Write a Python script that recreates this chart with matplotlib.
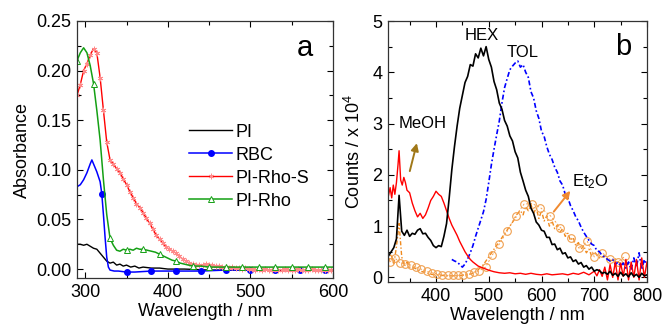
import numpy as np
import matplotlib
matplotlib.use("Agg")
import matplotlib.pyplot as plt
from matplotlib.ticker import MultipleLocator

plt.rcParams['font.family'] = ['Liberation Sans', 'DejaVu Sans']
plt.rcParams['mathtext.fontset'] = 'custom'
plt.rcParams['mathtext.rm'] = 'Liberation Sans'
plt.rcParams['mathtext.it'] = 'Liberation Sans:italic'

# ---------------- Panel a data ----------------
wl_a = np.arange(290, 600, 4)  # 290 .. 598
pi_rho_s = [0.175, 0.186, 0.200, 0.207, 0.216, 0.222, 0.218, 0.193, 0.160, 0.128,
            0.110, 0.106, 0.101, 0.097, 0.091, 0.085, 0.078, 0.072, 0.066, 0.062,
            0.057, 0.051, 0.046, 0.040, 0.034, 0.030, 0.026, 0.022, 0.020, 0.018,
            0.016, 0.013, 0.010, 0.008, 0.006, 0.005, 0.004, 0.004, 0.004, 0.005,
            0.004, 0.004, 0.003, 0.003, 0.002, 0.002, 0.001, 0.002, 0.001, 0.001,
            0.000, 0.001, 0.000, 0.000, -0.001, 0.000, -0.001, 0.000, -0.001, -0.001,
            0.000, -0.001, -0.001, 0.000, -0.001, -0.001, -0.001, 0.000, -0.001, -0.001,
            -0.001, 0.000, -0.001, -0.001, -0.001, -0.001, -0.001, -0.001]

wl_pi = [290, 294, 298, 302, 306, 310, 314, 318, 322, 326, 330, 334, 338, 342, 346,
         350, 355, 360, 365, 370, 380, 390, 400, 420, 450, 500, 550, 600]
pi = [0.025, 0.025, 0.024, 0.025, 0.023, 0.021, 0.020, 0.016, 0.012, 0.008, 0.006,
      0.007, 0.004, 0.005, 0.003, 0.004, 0.002, 0.003, 0.001, 0.002, 0.001, 0.001,
      0.000, 0.000, -0.001, -0.001, -0.001, -0.001]

wl_rbc = [290, 294, 298, 302, 306, 308, 310, 314, 318, 320, 322, 324, 326, 328, 330,
          335, 340, 350, 360, 380, 410, 440, 470, 500, 530, 560, 590, 600]
rbc = [0.083, 0.085, 0.090, 0.097, 0.106, 0.110, 0.106, 0.098, 0.088, 0.076, 0.055,
       0.032, 0.012, 0.002, -0.001, -0.002, -0.002, -0.003, -0.003, -0.002, -0.002,
       -0.002, -0.001, -0.001, -0.001, -0.001, -0.001, -0.001]

wl_rho = [290, 294, 298, 302, 306, 310, 314, 318, 322, 326, 330, 334, 338, 342, 346,
          350, 354, 358, 362, 366, 370, 375, 380, 385, 390, 395, 400, 405, 410, 415,
          420, 425, 430, 440, 450, 470, 490, 510, 530, 550, 570, 590, 600]
pi_rho = [0.210, 0.218, 0.223, 0.218, 0.205, 0.187, 0.160, 0.130, 0.090, 0.055, 0.031,
          0.024, 0.019, 0.018, 0.020, 0.019, 0.020, 0.019, 0.021, 0.020, 0.020, 0.019,
          0.018, 0.017, 0.015, 0.013, 0.011, 0.009, 0.008, 0.006, 0.005, 0.004, 0.003,
          0.003, 0.002, 0.002, 0.002, 0.002, 0.002, 0.002, 0.002, 0.002, 0.002]

# ---------------- Panel b data ----------------
wl_hex = np.arange(310, 801, 5)
hex_ = [0.42, 0.50, 0.58, 0.75, 1.60, 0.90, 0.82, 0.92, 0.80, 0.86,
        0.84, 0.92, 0.95, 0.85, 0.86, 0.78, 0.72, 0.62, 0.58, 0.62,
        0.60, 0.80, 1.05, 1.55, 2.10, 2.55, 2.95, 3.30, 3.55, 3.80,
        3.92, 4.15, 4.12, 4.36, 4.28, 4.47, 4.32, 4.50, 4.25, 4.10,
        3.82, 3.66, 3.40, 3.28, 3.06, 2.95, 2.76, 2.66, 2.45, 2.33,
        2.05, 1.88, 1.70, 1.58, 1.35, 1.25, 1.08, 1.02, 0.92, 0.90,
        0.78, 0.78, 0.64, 0.65, 0.54, 0.57, 0.46, 0.48, 0.38, 0.40,
        0.31, 0.34, 0.26, 0.29, 0.20, 0.23, 0.16, 0.20, 0.12, 0.15,
        0.13, 0.08, 0.10, 0.06, 0.12, 0.04, 0.08, 0.02, 0.10, 0.03,
        0.07, 0.01, 0.09, 0.02, 0.06, 0.00, 0.08, 0.03, 0.05]

wl_tol = np.arange(430, 801, 5)
tol = [0.35, 0.32, 0.30, 0.25, 0.20, 0.26, 0.36, 0.48, 0.62, 0.80,
       0.96, 1.12, 1.28, 1.52, 1.85, 2.20, 2.50, 2.78, 3.05, 3.40,
       3.70, 3.88, 4.05, 4.12, 4.18, 4.22, 4.10, 4.15, 4.00, 3.90,
       3.62, 3.50, 3.25, 3.10, 2.85, 2.75, 2.55, 2.40, 2.30, 2.15,
       2.05, 1.88, 1.80, 1.62, 1.55, 1.40, 1.30, 1.18, 1.10, 0.98,
       0.88, 0.80, 0.72, 0.65, 0.62, 0.52, 0.50, 0.42, 0.40, 0.35,
       0.32, 0.35, 0.25, 0.30, 0.22, 0.28, 0.18, 0.30, 0.15, 0.38,
       0.20, 0.48, 0.15, 0.35, 0.22]

wl_meoh = [310, 313, 316, 319, 322, 325, 328, 330, 333, 336, 339, 342, 345, 350, 355,
           360, 365, 370, 375, 380, 385, 390, 395, 400, 405, 410, 415, 420, 425, 430,
           435, 440, 445, 450, 455, 460, 465, 470, 480, 490, 500, 510, 520, 530, 540,
           550, 560, 570, 580, 590, 600, 610, 620, 630, 640, 650, 660, 670, 680, 690,
           700, 705, 710, 715, 720, 725, 730, 735, 740, 745, 750, 755, 760, 765, 770,
           775, 780, 785, 790, 795, 800]
meoh = [1.60, 1.75, 1.55, 1.80, 1.62, 1.85, 2.20, 2.47, 1.90, 1.80, 1.95, 1.85, 1.70,
        1.65, 1.45, 1.30, 1.18, 1.25, 1.15, 1.22, 1.35, 1.50, 1.58, 1.68, 1.62, 1.58,
        1.45, 1.30, 1.15, 1.02, 0.92, 0.82, 0.70, 0.60, 0.50, 0.42, 0.35, 0.30, 0.22,
        0.18, 0.14, 0.11, 0.09, 0.08, 0.09, 0.07, 0.08, 0.06, 0.08, 0.06, 0.05, 0.07,
        0.05, 0.06, 0.07, 0.05, 0.08, 0.06, 0.10, 0.05, 0.12, 0.03, 0.15, 0.02, 0.20,
        -0.05, 0.25, 0.00, 0.30, -0.05, 0.28, 0.02, 0.35, -0.05, 0.30, 0.00, 0.35,
        -0.05, 0.38, 0.00, 0.30]

wl_et2o = [310, 315, 320, 325, 330, 335, 340, 345, 350, 360, 370, 380, 390, 400, 420,
           440, 460, 470, 480, 490, 500, 510, 520, 530, 540, 550, 555, 560, 565, 570,
           575, 580, 585, 590, 595, 600, 605, 610, 615, 620, 625, 630, 635, 640, 645,
           650, 655, 660, 665, 670, 675, 680, 685, 690, 695, 700, 710, 720, 730, 740,
           750, 760, 770]
et2o = [0.30, 0.45, 0.25, 0.60, 1.05, 0.40, 0.22, 0.30, 0.20, 0.18, 0.12, 0.10, 0.06,
        0.05, 0.03, 0.03, 0.05, 0.08, 0.15, 0.25, 0.40, 0.55, 0.70, 0.85, 1.00, 1.15,
        1.25, 1.30, 1.22, 1.38, 1.30, 1.42, 1.25, 1.35, 1.15, 1.30, 1.10, 1.20, 1.00,
        1.10, 0.95, 1.02, 0.88, 0.95, 0.80, 0.86, 0.72, 0.78, 0.62, 0.68, 0.55, 0.62,
        0.48, 0.55, 0.42, 0.50, 0.38, 0.42, 0.32, 0.36, 0.26, 0.30, 0.22]

wl_et2o_c = [312, 322, 332, 342, 352, 362, 372, 382, 392, 402, 412, 422, 432, 442, 452,
             462, 472, 482, 494, 507, 520, 535, 551, 567, 582, 598, 617, 636, 655, 671,
             687, 700, 715, 730, 745, 758]
et2o_c = [0.30, 0.38, 0.28, 0.27, 0.24, 0.20, 0.16, 0.12, 0.09, 0.07, 0.05, 0.04, 0.04,
          0.04, 0.05, 0.07, 0.10, 0.13, 0.20, 0.44, 0.65, 0.90, 1.20, 1.43, 1.44, 1.36,
          1.20, 0.97, 0.77, 0.57, 0.70, 0.40, 0.48, 0.35, 0.30, 0.41]

# ---------------- Figure ----------------
fig = plt.figure(figsize=(6.62, 3.24), dpi=100)
ax1 = fig.add_axes([77/662, 46/324, 256/662, 257/324])
ax2 = fig.add_axes([388/662, 42/324, 259/662, 261/324])

FS = 13

ax1.plot(wl_pi, pi, color='black', lw=1.0, label='PI')
ax1.plot(wl_rbc, rbc, color='#0000ff', lw=1.1, marker='o', ms=4,
         markevery=[i for i, w in enumerate(wl_rbc) if w >= 320 and (w - 320) % 30 == 0],
         label='RBC')
ax1.plot(wl_a, pi_rho_s, color='#ff0000', lw=1.0, marker=(6, 2, 0), ms=4,
         mec='#ff8a8a', mfc='#ff8a8a', mew=0.6, label='PI-Rho-S')
ax1.plot(wl_rho, pi_rho, color='#14a014', lw=1.1, marker='^', ms=5, mfc='white',
         mec='#14a014', mew=0.7,
         markevery=[i for i, w in enumerate(wl_rho) if (w - 290) % 20 == 0],
         label='PI-Rho')

ax1.set_xlim(290, 600)
ax1.set_ylim(-0.009, 0.25)
ax1.xaxis.set_major_locator(MultipleLocator(100))
ax1.xaxis.set_minor_locator(MultipleLocator(50))
ax1.yaxis.set_major_locator(MultipleLocator(0.05))
ax1.yaxis.set_minor_locator(MultipleLocator(0.025))
ax1.yaxis.set_major_formatter(matplotlib.ticker.FormatStrFormatter('%.2f'))
ax1.set_xlabel('Wavelength / nm', fontsize=FS, labelpad=2)
ax1.set_ylabel('Absorbance', fontsize=FS, labelpad=4)
ax1.text(566, 0.2226, 'a', fontsize=21, ha='center', va='center')
leg = ax1.legend(loc='upper left', bbox_to_anchor=(0.437, 0.60), frameon=False,
                 fontsize=FS, handlelength=2.4, handletextpad=0.2, labelspacing=0.33,
                 borderpad=0, borderaxespad=0)

ax2.plot(wl_et2o, et2o, color='#f08a1e', lw=1.0, ls=(0, (3, 1.5, 1, 1.5)))
ax2.plot(wl_et2o_c, et2o_c, color='#f5a050', lw=0.7, ls=(0, (2, 2)), marker='o',
         ms=5.5, mfc='none', mec='#f0a050', mew=0.8)
ax2.plot(wl_tol, tol, color='#0000ff', lw=1.2, ls=(0, (3, 1.5, 1, 1.5)))
ax2.plot(wl_meoh, meoh, color='#ff0000', lw=1.0)
ax2.plot(wl_hex, hex_, color='black', lw=1.2)

ax2.set_xlim(309, 800)
ax2.set_ylim(-0.09, 5)
ax2.xaxis.set_major_locator(MultipleLocator(100))
ax2.xaxis.set_minor_locator(MultipleLocator(50))
ax2.yaxis.set_major_locator(MultipleLocator(1))
ax2.yaxis.set_minor_locator(MultipleLocator(0.5))
ax2.set_xlabel('Wavelength / nm', fontsize=FS, labelpad=2)
ax2.set_ylabel('Counts / x 10$^4$', fontsize=FS, labelpad=6)

ax2.text(486, 4.72, 'HEX', fontsize=12, ha='center', va='center')
ax2.text(564, 4.39, 'TOL', fontsize=12, ha='center', va='center')
ax2.text(374, 3.0, 'MeOH', fontsize=12, ha='center', va='center')
ax2.text(693, 1.86, 'Et$_2$O', fontsize=12, ha='center', va='center')
ax2.text(755, 4.49, 'b', fontsize=21, ha='center', va='center')
ax2.annotate('', xy=(365, 2.67), xytext=(349, 2.02),
             arrowprops=dict(arrowstyle='-|>', color='#a07818', lw=1.4, mutation_scale=11))
ax2.annotate('', xy=(658, 1.73), xytext=(620, 1.24),
             arrowprops=dict(arrowstyle='-|>', color='#f08a30', lw=1.4, mutation_scale=11))

for ax in (ax1, ax2):
    ax.tick_params(which='both', direction='in', top=True, right=True,
                   labelsize=FS, pad=4)
    ax.tick_params(which='major', length=4, width=0.8)
    ax.tick_params(which='minor', length=3, width=0.8)
    for s in ax.spines.values():
        s.set_linewidth(0.9)
        s.set_color('#333333')

fig.savefig('out.png', dpi=100)
